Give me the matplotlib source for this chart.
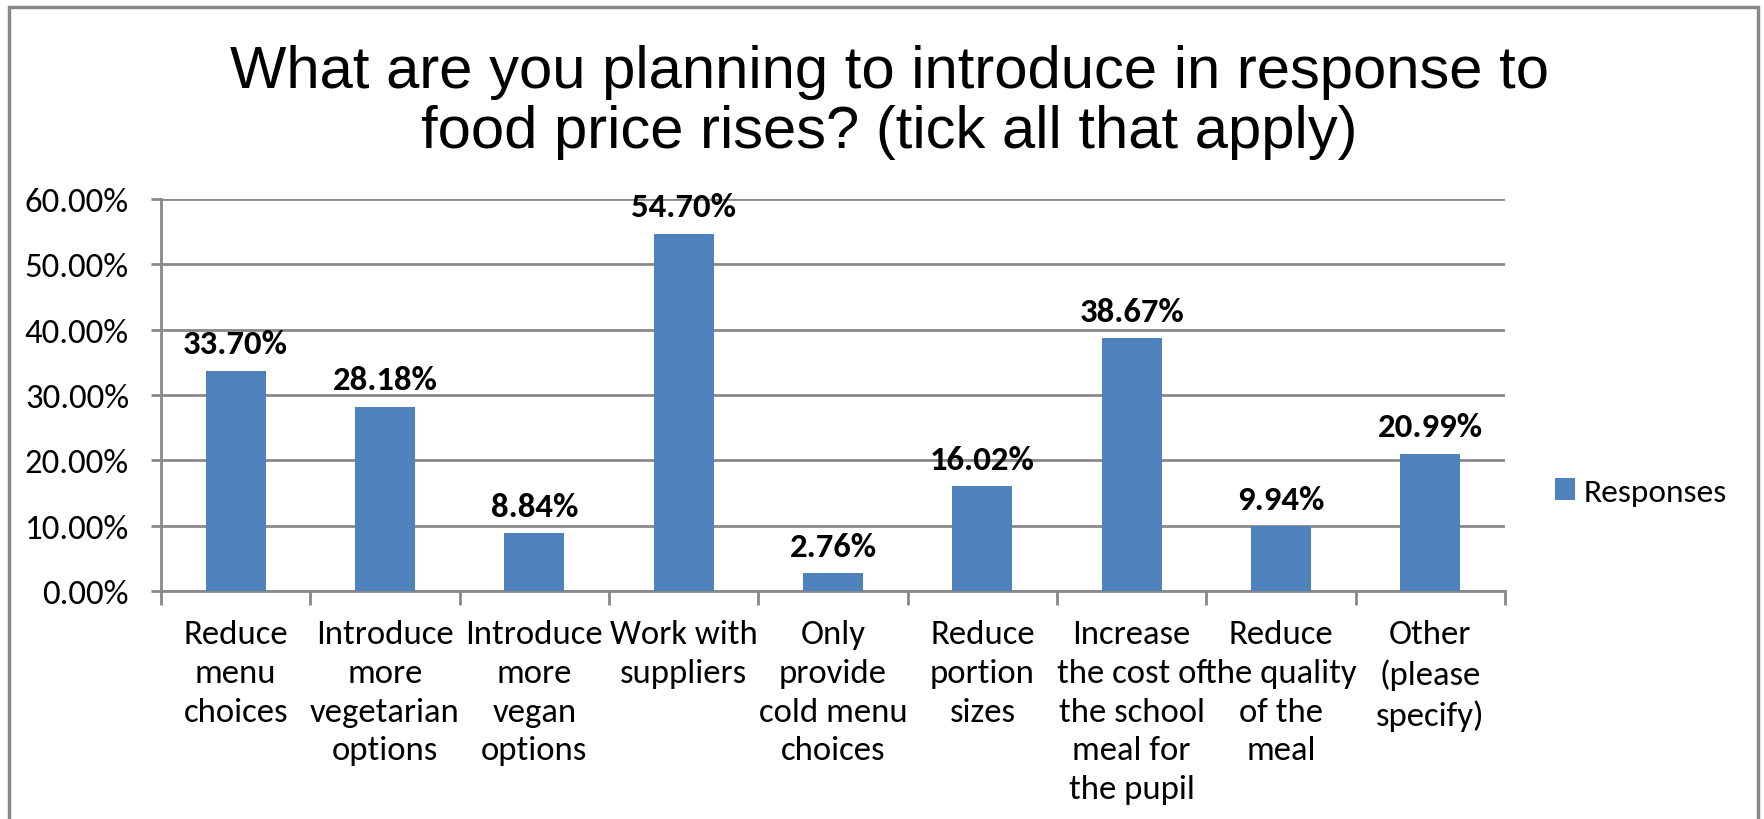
import matplotlib
matplotlib.use("Agg")
import matplotlib.pyplot as plt
from matplotlib.patches import Rectangle
from matplotlib.ticker import FuncFormatter, MultipleLocator

# survey answers (percent of respondents)
categories = ["Reduce\nmenu\nchoices",
              "Introduce\nmore\nvegetarian\noptions",
              "Introduce\nmore\nvegan\noptions",
              "Work with\nsuppliers",
              "Only\nprovide\ncold menu\nchoices",
              "Reduce\nportion\nsizes",
              "Increase\nthe cost of\nthe school\nmeal for\nthe pupil",
              "Reduce\nthe quality\nof the\nmeal",
              "Other\n(please\nspecify)"]
responses = [33.70, 28.18, 8.84, 54.70, 2.76, 16.02, 38.67, 9.94, 20.99]
series_name = "Responses"
title = "What are you planning to introduce in response to\nfood price rises? (tick all that apply)"

narrow = ["Carlito", "Liberation Sans Narrow", "DejaVu Sans"]
plt.rcParams["font.family"] = narrow
grey = "#898989"
blue = "#4F81BD"

fig = plt.figure(figsize=(17.65, 8.2), dpi=100)
ax = fig.add_axes([0.0912, 0.278, 0.7615, 0.478])

x = range(len(categories))
bars = ax.bar(x, responses, width=0.4, color=blue, label=series_name, zorder=3)

for b, v in zip(bars, responses):
    ax.annotate("%.2f%%" % v, (b.get_x() + b.get_width() / 2, v),
                xytext=(0, 9), textcoords="offset points",
                ha="center", va="bottom", fontsize=25, fontweight="bold",
                color="black")

ax.set_xlim(-0.5, len(categories) - 0.5)
ax.set_ylim(0, 60)
ax.yaxis.set_major_locator(MultipleLocator(10))
ax.yaxis.set_major_formatter(FuncFormatter(lambda v, p: "%.2f%%" % v))
ax.grid(axis="y", color=grey, linewidth=2, zorder=0)

ax.set_xticks(list(x))
ax.set_xticklabels(categories, fontsize=25, linespacing=1.37, va="top")
ax.set_xticks([i - 0.5 for i in range(len(categories) + 1)], minor=True)
ax.tick_params(axis="x", which="major", length=0, pad=20)
ax.tick_params(axis="x", which="minor", length=10, width=2, color=grey)
ax.tick_params(axis="y", length=7, width=2, color=grey, pad=16, labelsize=25)

for s in ["top", "right"]:
    ax.spines[s].set_visible(False)
for s in ["left", "bottom"]:
    ax.spines[s].set_color(grey)
    ax.spines[s].set_linewidth(2)

fig.text(0.504, 0.875, title, ha="center", va="center", fontsize=43,
         family="Liberation Sans", linespacing=1.1)

fig.legend(handles=[bars], labels=[series_name], loc="center left",
           bbox_to_anchor=(0.864, 0.399), frameon=False, handlelength=0.6,
           handleheight=0.6, handletextpad=0.25, prop={"size": 24})

fig.patches.append(Rectangle((0.005, -0.05), 0.991, 1.04, transform=fig.transFigure,
                             fill=False, edgecolor=grey, linewidth=2.5))

fig.savefig("out.png")
